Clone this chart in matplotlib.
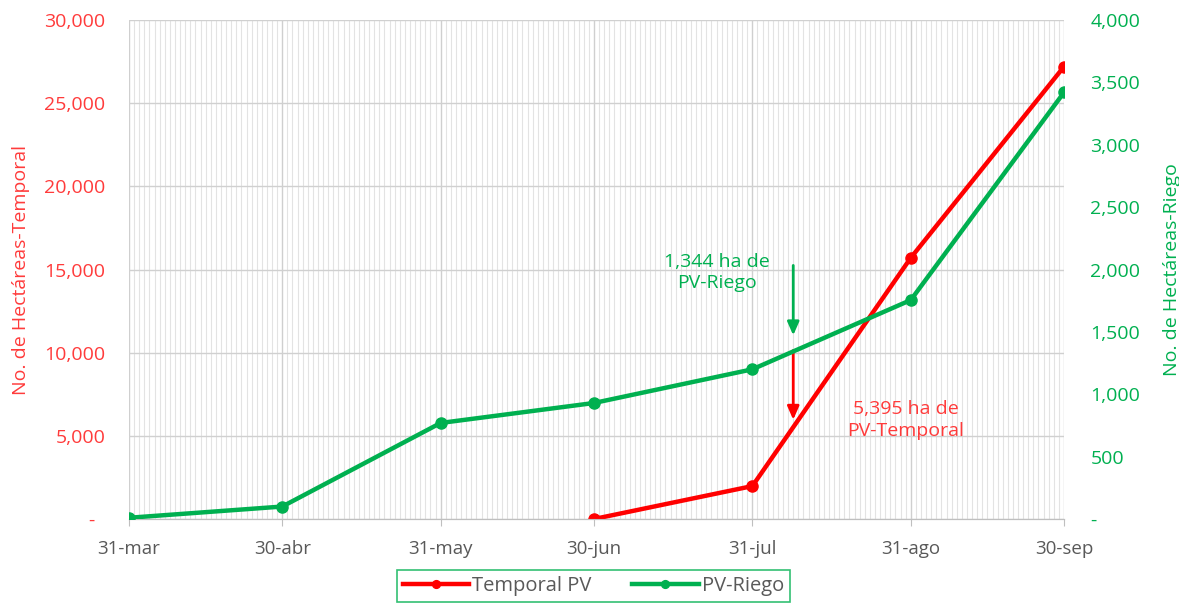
import matplotlib.pyplot as plt
import matplotlib.dates as mdates
import pandas as pd
from matplotlib.ticker import FuncFormatter, MultipleLocator

plt.rcParams['font.family'] = ['Open Sans', 'DejaVu Sans']

# data
temporal_dates = ['2023-06-30', '2023-07-31', '2023-08-31', '2023-09-30']
temporal_vals = [0, 1980, 15700, 27200]
riego_dates = ['2023-03-31', '2023-04-30', '2023-05-31', '2023-06-30',
               '2023-07-31', '2023-08-31', '2023-09-30']
riego_vals = [10, 100, 770, 930, 1200, 1755, 3420]
month_ticks = riego_dates
month_labels = ['31-mar', '30-abr', '31-may', '30-jun', '31-jul', '31-ago', '30-sep']

RED = '#FF0000'
RED_TXT = '#FF3B3B'
GREEN = '#00B050'
GRAY = '#595959'

fig = plt.figure(figsize=(11.79, 6.04), dpi=100)
ax = fig.add_axes([0.1094, 0.1407, 0.7931, 0.8262])
ax2 = ax.twinx()

t_x = pd.to_datetime(temporal_dates)
r_x = pd.to_datetime(riego_dates)

l1, = ax.plot(t_x, temporal_vals, color=RED, lw=3.2, marker='o', ms=8, zorder=5,
              label='Temporal PV')
l2, = ax2.plot(r_x, riego_vals, color=GREEN, lw=3.2, marker='o', ms=8, zorder=5,
               label='PV-Riego')

ax.set_xlim(pd.Timestamp('2023-03-31'), pd.Timestamp('2023-09-30'))
ax.set_ylim(0, 30000)
ax2.set_ylim(0, 4000)

# daily minor grid, monthly major ticks
ax.xaxis.set_minor_locator(mdates.DayLocator())
ax.set_xticks(pd.to_datetime(month_ticks))
ax.set_xticklabels(month_labels)
ax.grid(which='minor', axis='x', color='#e3e3e3', lw=0.8)
ax.grid(which='major', axis='x', color='#cfcfcf', lw=1.0)
ax.yaxis.set_major_locator(MultipleLocator(5000))
ax.grid(which='major', axis='y', color='#d0d0d0', lw=1.0)
ax.set_axisbelow(True)

ax.yaxis.set_major_formatter(FuncFormatter(lambda v, p: '-  ' if v == 0 else f'{v:,.0f}'))
ax2.yaxis.set_major_locator(MultipleLocator(500))
ax2.yaxis.set_major_formatter(FuncFormatter(lambda v, p: '-' if v == 0 else f'{v:,.0f}'))

ax.tick_params(axis='x', which='major', length=5, color='#bfbfbf', pad=10,
               labelsize=13.5, labelcolor=GRAY)
ax.tick_params(axis='x', which='minor', length=0)
ax.tick_params(axis='y', length=0, pad=17, labelsize=14, labelcolor=RED_TXT)
ax2.yaxis.set_tick_params(which='major', length=0, pad=19, labelsize=14,
                          labelcolor=GREEN)

for a in (ax, ax2):
    for s in ('top', 'left', 'right'):
        a.spines[s].set_visible(False)
    a.spines['bottom'].set_color('#bfbfbf')

ax.set_ylabel('No. de Hectáreas-Temporal', color=RED_TXT, fontsize=14, labelpad=10)
ax2.set_ylabel('No. de Hectáreas-Riego', color=GREEN, fontsize=14, labelpad=16)

# annotations
arrow_x = pd.Timestamp('2023-08-08')
ax2.annotate('', xy=(arrow_x, 1450), xytext=(arrow_x, 2055),
             arrowprops=dict(arrowstyle='-|>,head_width=0.35,head_length=0.8',
                             color=GREEN, lw=2), zorder=6)
ax.annotate('', xy=(arrow_x, 5800), xytext=(arrow_x, 10300),
            arrowprops=dict(arrowstyle='-|>,head_width=0.35,head_length=0.8',
                            color=RED, lw=2), zorder=6)
ax2.text(pd.Timestamp('2023-07-24'), 1975, '1,344 ha de\nPV-Riego', color=GREEN,
         fontsize=14, ha='center', va='center', linespacing=1.25)
ax.text(pd.Timestamp('2023-08-30'), 5950, '5,395 ha de\nPV-Temporal', color=RED_TXT,
        fontsize=14, ha='center', va='center', linespacing=1.25)

leg = fig.legend(handles=[l1, l2], loc='upper left', bbox_to_anchor=(0.3367, 0.0563),
                 ncol=2, frameon=True, fontsize=14.5, handlelength=3.3,
                 columnspacing=2.0, handletextpad=0.15, borderpad=0.3,
                 borderaxespad=0, fancybox=False, markerscale=0.7)
leg.get_frame().set_edgecolor(GREEN)
leg.get_frame().set_linewidth(1.2)
for t in leg.get_texts():
    t.set_color(GRAY)

fig.savefig('out.png', dpi=100)
